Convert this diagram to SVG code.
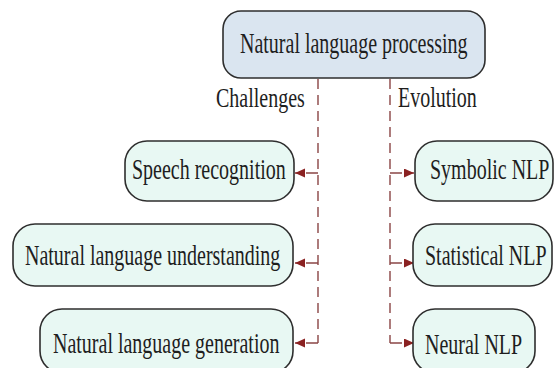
<svg xmlns="http://www.w3.org/2000/svg" width="555" height="368" viewBox="0 0 555 368">
<style>
.root{fill:#dae5f0;stroke:#2e2e2e;stroke-width:1.6}
.leaf{fill:#e8f8f3;stroke:#2e2e2e;stroke-width:1.6}
text{font-family:"Liberation Serif","Times New Roman",serif;font-size:20px;fill:#1e1e1e}
.conn{fill:none;stroke:#8a4545;stroke-width:1.4;stroke-dasharray:10 6}
.br{stroke-dasharray:12 4}
</style>
<defs>
<marker id="ah" markerUnits="userSpaceOnUse" markerWidth="11" markerHeight="10" refX="10" refY="4.5" orient="auto">
<path d="M0,0 L10,4.5 L0,9 z" fill="#8b2222"/>
</marker>
</defs>
<rect width="555" height="368" fill="#ffffff"/>
<g id="connectors">
<path class="conn" d="M318 79 V343"/>
<path class="conn" d="M390 79 V343"/>
<path class="conn br" d="M318 173 H295" marker-end="url(#ah)"/>
<path class="conn br" d="M318 263 H295" marker-end="url(#ah)"/>
<path class="conn br" d="M318 343 H295" marker-end="url(#ah)"/>
<path class="conn br" d="M390 173 H414" marker-end="url(#ah)"/>
<path class="conn br" d="M390 263 H414" marker-end="url(#ah)"/>
<path class="conn br" d="M390 343 H414" marker-end="url(#ah)"/>
<text transform="translate(216,107) scale(1,1.33)" font-size="22.2">Challenges</text>
<text transform="translate(398,107) scale(1,1.45)">Evolution</text>
</g>
<g id="nlp">
<rect class="root" x="223" y="11" width="262" height="67" rx="18"/>
<text transform="translate(240,53) scale(1,1.48)">Natural language processing</text>
</g>
<g id="speech">
<rect class="leaf" x="125" y="141" width="169" height="60" rx="22"/>
<text transform="translate(132,179) scale(1,1.42)">Speech recognition</text>
</g>
<g id="nlu">
<rect class="leaf" x="13" y="224" width="280" height="62" rx="22"/>
<text transform="translate(25,265) scale(1,1.42)">Natural language understanding</text>
</g>
<g id="nlg">
<rect class="leaf" x="40" y="309" width="253" height="64" rx="22"/>
<text transform="translate(53,353) scale(1,1.42)">Natural language generation</text>
</g>
<g id="symbolic">
<rect class="leaf" x="415" y="141" width="138" height="60" rx="22"/>
<text transform="translate(430,179) scale(1,1.46)" font-size="19.4">Symbolic NLP</text>
</g>
<g id="statistical">
<rect class="leaf" x="413" y="224" width="139" height="62" rx="22"/>
<text transform="translate(425,265) scale(1,1.46)" font-size="19.5">Statistical NLP</text>
</g>
<g id="neural">
<rect class="leaf" x="413" y="309" width="122" height="64" rx="22"/>
<text transform="translate(425,354) scale(1,1.42)" font-size="20.5">Neural NLP</text>
</g>
</svg>
